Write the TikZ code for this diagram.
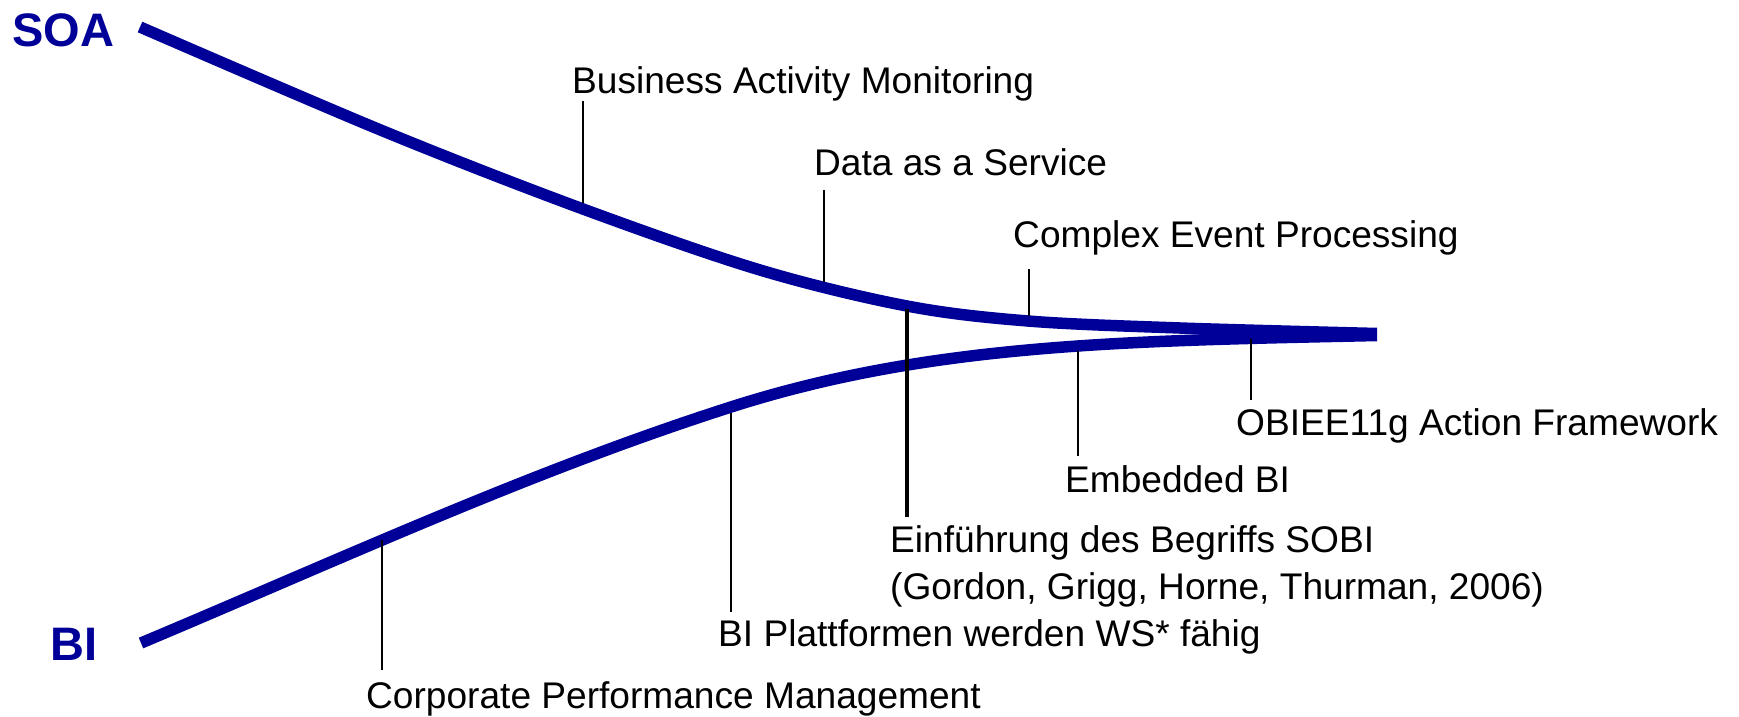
\documentclass[tikz,border=0pt]{standalone}
\usepackage{fontspec}
\setmainfont{Liberation Sans}
\definecolor{soablue}{RGB}{0,0,153}
\tikzset{
  curve/.style={draw=soablue, line width=11.5pt},
  lbl/.style={anchor=base west, inner sep=0pt, font=\fontsize{37.1}{44}\selectfont, text=black},
  big/.style={anchor=base west, inner sep=0pt, font=\fontsize{47}{56}\selectfont\bfseries, text=soablue},
  tick/.style={draw=black, line width=1.6pt},
  thicktick/.style={draw=black, line width=3.8pt},
}
\begin{document}
\begin{tikzpicture}[x=1pt,y=-1pt]
\useasboundingbox (0,0) rectangle (1739,717);
% main curves
\coordinate (soaS) at (140,27);
\coordinate (soaE) at (1377,333.5);
\coordinate (biS) at (141,643);
\coordinate (biM) at (731,407);
\coordinate (biE) at (1377,335.5);
\draw[curve] plot[smooth, tension=0.55] coordinates {(140,27) (383,131) (583,209) (760,270) (907,306) (1028,321) (1180,328) (1377,333.5)};
\draw[curve] (biS) .. controls (341,559) and (531,471) .. (biM)
                   .. controls (931,343) and (1127,341) .. (biE);
% big labels
\node[big] (soa) at (12,47) {SOA};
\node[big] (bi) at (50,660) {BI};
% labels
\node[lbl] (bam) at (572,93) {Business Activity Monitoring};
\node[lbl] (daas) at (814,175) {Data as a Service};
\node[lbl] (cep) at (1013,247) {Complex Event Processing};
\node[lbl] (obiee) at (1236,435) {OBIEE11g Action Framework};
\node[lbl] (emb) at (1065,492) {Embedded BI};
\node[lbl] (sobi1) at (890,552) {Einführung des Begriffs SOBI};
\node[lbl] (sobi2) at (890,599) {(Gordon, Grigg, Horne, Thurman, 2006)};
\node[lbl] (bip) at (718,646) {BI Plattformen werden WS* fähig};
\node[lbl] (cpm) at (366,708) {Corporate Performance Management};
% tick coordinates
\coordinate (bamA) at (583,203); \coordinate (bamB) at (583,101);
\coordinate (daaA) at (824,282); \coordinate (daaB) at (824,190);
\coordinate (cepA) at (1029,316); \coordinate (cepB) at (1029,269);
\coordinate (sobA) at (907,309); \coordinate (sobB) at (907,517);
\coordinate (embA) at (1078,351); \coordinate (embB) at (1078,456);
\coordinate (obiA) at (1251,339); \coordinate (obiB) at (1251,400);
\coordinate (bipA) at (731,413); \coordinate (bipB) at (731,612);
\coordinate (cpmA) at (382,540); \coordinate (cpmB) at (382,670);
% ticks
\draw[tick] (bamA) -- (bamB);
\draw[tick] (daaA) -- (daaB);
\draw[tick] (cepA) -- (cepB);
\draw[thicktick] (sobA) -- (sobB);
\draw[tick] (embA) -- (embB);
\draw[tick] (obiA) -- (obiB);
\draw[tick] (bipA) -- (bipB);
\draw[tick] (cpmA) -- (cpmB);
\end{tikzpicture}
\end{document}
